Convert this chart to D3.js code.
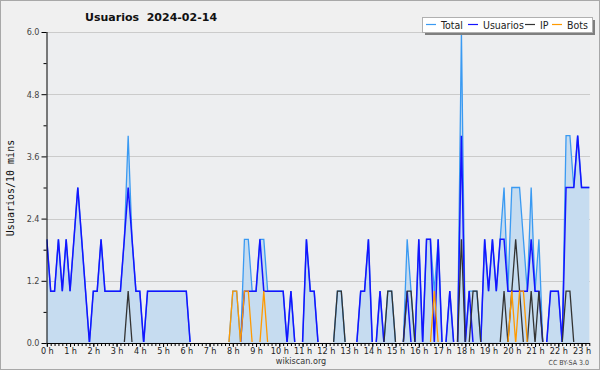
<!DOCTYPE html>
<html><head><meta charset="utf-8">
<script src="https://cdn.jsdelivr.net/npm/d3@7/dist/d3.min.js"></script>
<style>body{margin:0;background:#fff}svg{display:block}</style>
</head><body><svg id="c" width="600" height="370"></svg>
<script>
// 10-minute slots, 0 = 00:00 ... 140 = 23:20
const hourLabels = d3.range(0, 24).map(h => h + " h");
const yTickValues = [0, 1.2, 2.4, 3.6, 4.8, 6.0];
const seriesNames = ["Total", "Usuarios", "IP", "Bots"];

const total = [
  2,1,1,2,1,2,1,2,3,2,1,0,
  1,1,2,1,1,1,1,1,2,4,2,1,
  1,0,1,1,1,1,1,1,1,1,1,1,
  1,0,0,0,0,0,0,0,0,0,0,0,
  1,1,0,2,2,1,1,2,2,1,1,1,
  1,1,0,1,0,0,0,2,1,1,0,0,
  0,0,0,1,1,0,0,0,0,1,1,2,
  0,0,1,0,1,1,0,0,0,2,1,0,
  2,0,2,2,1,2,0,0,1,0,0,6,
  0,1,1,1,0,2,1,2,1,2,3,1,
  3,3,3,2,1,3,1,2,0,0,1,1,
  1,0,4,4,3,4,3,3,3
];
const usuarios = [
  2,1,1,2,1,2,1,2,3,2,1,0,
  1,1,2,1,1,1,1,1,2,3,2,1,
  1,0,1,1,1,1,1,1,1,1,1,1,
  1,0,0,0,0,0,0,0,0,0,0,0,
  0,0,0,1,1,1,1,2,1,1,1,1,
  1,1,0,1,0,0,0,2,1,1,0,0,
  0,0,0,0,0,0,0,0,0,1,1,2,
  0,0,1,0,0,0,0,0,0,1,0,0,
  2,0,2,2,0,2,0,0,1,0,0,4,
  0,1,0,0,0,2,1,2,1,2,2,1,
  1,1,1,1,1,2,1,1,0,0,1,1,
  1,0,3,3,3,4,3,3,3
];
const ip = [
  0,0,0,0,0,0,0,0,0,0,0,0,
  0,0,0,0,0,0,0,0,0,1,0,0,
  0,0,0,0,0,0,0,0,0,0,0,0,
  0,0,0,0,0,0,0,0,0,0,0,0,
  0,0,0,0,0,0,0,0,0,0,0,0,
  0,0,0,0,0,0,0,0,0,0,0,0,
  0,0,0,1,1,0,0,0,0,0,0,0,
  0,0,0,0,1,1,0,0,0,1,1,0,
  0,0,0,0,0,0,0,0,0,0,0,2,
  0,0,1,1,0,0,0,0,0,0,1,0,
  1,2,1,0,0,1,0,1,0,0,0,0,
  0,0,1,1,0,0,0,0,0
];
const bots = [
  0,0,0,0,0,0,0,0,0,0,0,0,
  0,0,0,0,0,0,0,0,0,0,0,0,
  0,0,0,0,0,0,0,0,0,0,0,0,
  0,0,0,0,0,0,0,0,0,0,0,0,
  1,1,0,1,1,0,0,0,1,0,0,0,
  0,0,0,0,0,0,0,0,0,0,0,0,
  0,0,0,0,0,0,0,0,0,0,0,0,
  0,0,0,0,0,0,0,0,0,0,0,0,
  0,0,0,0,1,0,0,0,0,0,0,0,
  0,0,0,0,0,0,0,0,0,0,0,0,
  1,0,1,1,0,0,0,0,0,0,0,0,
  0,0,0,0,0,0,0,0,0
];
const colors = {Total:"#3a9af2", Usuarios:"#1414ff", IP:"#333333", Bots:"#ff9a00"};

const svg = d3.select("#c");
const L = 46.5, R = 590, T = 32, B = 343;
const x = d3.scaleLinear().domain([0, 140]).range([46.8, 589.3]);
const y = d3.scaleLinear().domain([0, 6]).range([B, T]);

svg.append("defs").append("clipPath").attr("id","clip")
  .append("rect").attr("x",L).attr("y",0).attr("width",R-L+2).attr("height",B-0.9);

svg.append("rect").attr("x",0.5).attr("y",0.5).attr("width",599).attr("height",369)
  .attr("fill","#f0f0f0").attr("stroke","#a8a8a8");
svg.append("rect").attr("x",L).attr("y",T).attr("width",R-L).attr("height",B-T).attr("fill","#edeef0");

// grid
svg.append("g").selectAll("line").data(yTickValues.filter(v=>v>0)).join("line")
  .attr("x1",L).attr("x2",R).attr("y1",d=>Math.round(y(d))+0.5).attr("y2",d=>Math.round(y(d))+0.5)
  .attr("stroke","#cbcbcb").attr("stroke-width",1);

// area
const area = d3.area().x((d,i)=>x(i)).y0(y(0)).y1(d=>y(d));
svg.append("path").datum(total).attr("d",area).attr("fill","#c6dcf0");

const line = d3.line().x((d,i)=>x(i)).y(d=>y(d));
const lines = svg.append("g").attr("clip-path","url(#clip)");
[["Total",total,1.3],["Usuarios",usuarios,1.5],["IP",ip,1.3],["Bots",bots,1.3]].forEach(([n,arr,w])=>{
  lines.append("path").datum(arr).attr("d",line).attr("fill","none")
    .attr("stroke",colors[n]).attr("stroke-width",w).attr("stroke-linejoin","miter");
});

// y axis
const yAxis = d3.axisLeft(y).tickValues(yTickValues).tickFormat(d3.format(".1f")).tickSize(5).tickPadding(2);
const gy = svg.append("g").attr("transform",`translate(${L},0)`).call(yAxis);
gy.select(".domain").attr("d",`M0.5,${T}V${B}`).attr("stroke","#000");
gy.selectAll("text").attr("font-family","DejaVu Sans Condensed, DejaVu Sans").attr("font-size",9).attr("fill","#444");
const yMinor = d3.axisLeft(y).tickValues(d3.range(0.6,6,1.2)).tickSize(3).tickFormat("");
svg.append("g").attr("transform",`translate(${L},0)`).call(yMinor).select(".domain").remove();

// x axis
const hourTicks = d3.range(0, 24).map(h => h*6);
const xAxis = d3.axisBottom(x).tickValues(hourTicks).tickFormat((d,i)=>hourLabels[i]).tickSize(4).tickPadding(1);
const gx = svg.append("g").attr("transform",`translate(0,${B})`).call(xAxis);
gx.select(".domain").attr("d",`M${L},0.5H${R}`).attr("stroke","#000");
gx.selectAll("text").attr("font-family","DejaVu Sans Condensed, DejaVu Sans").attr("font-size",9).attr("fill","#222");
const xMinor = d3.axisBottom(x).tickValues(d3.range(0,141)).tickSize(3).tickFormat("");
svg.append("g").attr("transform",`translate(0,${B})`).call(xMinor).select(".domain").remove();

// titles
svg.append("text").attr("x",85).attr("y",21).attr("font-family","DejaVu Sans").attr("font-weight","bold")
  .attr("font-size",11).attr("fill","#111").style("white-space","pre").text("Usuarios  2024-02-14");
svg.append("text").attr("transform","translate(14,188) rotate(-90)").attr("text-anchor","middle")
  .attr("font-family","DejaVu Sans Mono").attr("font-size",10).attr("fill","#111").text("Usuarios/10 mins");
svg.append("text").attr("x",301).attr("y",364).attr("text-anchor","middle")
  .attr("font-family","DejaVu Sans Condensed, DejaVu Sans").attr("font-size",9).attr("fill","#333").text("wikiscan.org");
svg.append("text").attr("x",589).attr("y",365).attr("text-anchor","end")
  .attr("font-family","DejaVu Sans Condensed, DejaVu Sans").attr("font-size",7).attr("fill","#444").text("CC BY-SA 3.0");

// legend
const lg = svg.append("g");
lg.append("rect").attr("x",425).attr("y",20).attr("width",170).attr("height",15).attr("fill","#7f7f7f");
lg.append("rect").attr("x",422.5).attr("y",17.5).attr("width",170).attr("height",15).attr("fill","#fff").attr("stroke","#b0b0b0");
const lx = [426, 468, 525, 552];
seriesNames.forEach((n,i)=>{
  lg.append("line").attr("x1",lx[i]).attr("x2",lx[i]+10).attr("y1",24.5).attr("y2",24.5)
    .attr("stroke",colors[n]).attr("stroke-width",1.2);
  lg.append("text").attr("x",lx[i]+15).attr("y",28.5).attr("font-family","DejaVu Sans Condensed, DejaVu Sans")
    .attr("font-size",10.5).attr("fill","#222").text(n);
});
</script></body></html>
